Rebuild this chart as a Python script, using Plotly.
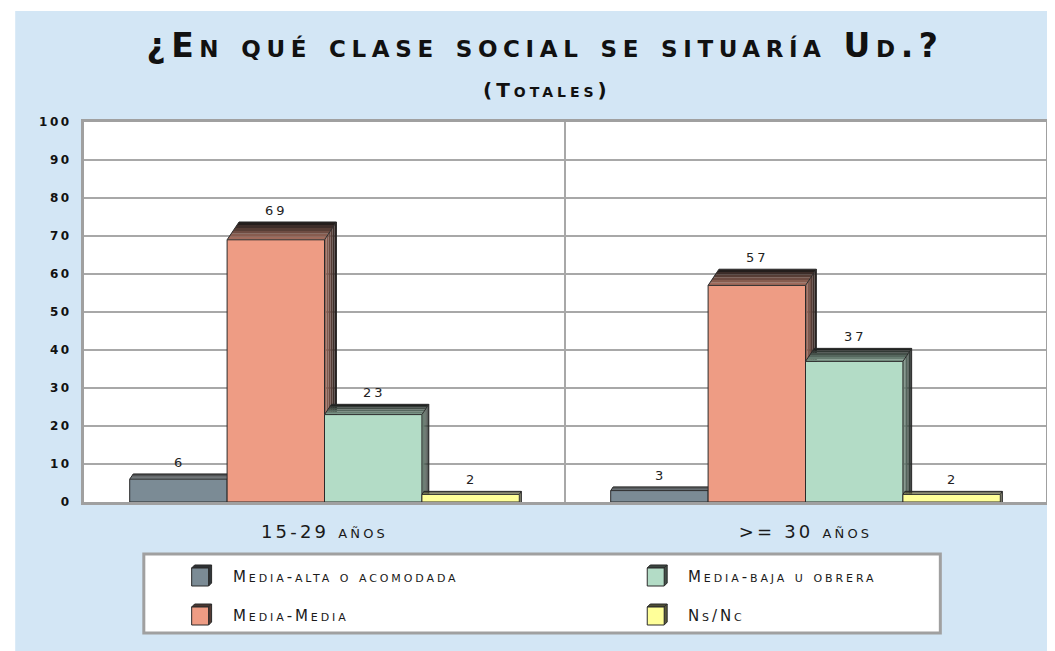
import math
import plotly.graph_objects as go

# ---------------- data ----------------
categories = ["15-29 años", ">= 30 años"]
series_names = ["Media-alta o acomodada", "Media-Media", "Media-baja u obrera", "Ns/Nc"]
media_alta = [6, 3]
media_media = [69, 57]
media_baja = [23, 37]
ns_nc = [2, 2]
y_ticks = [0, 10, 20, 30, 40, 50, 60, 70, 80, 90, 100]
title_text = "¿En qué clase social se situaría Ud.?"
subtitle_text = "(Totales)"

series_values = [media_alta, media_media, media_baja, ns_nc]
colors = ["#7b8b95", "#ee9c84", "#b3dcc6", "#ffff99"]

# ---------------- geometry / style ----------------
OFF = 8                    # page body margin of the browser
REF_W, REF_H = 1055, 651
W, H = REF_W - OFF, REF_H - OFF
PL, PR, PT, PB = 84, 1049, 122, 502      # plot area in reference pixels
ML, MR, MT, MB = PL - OFF, REF_W - PR, PT - OFF, REF_H - PB
PW = PR - PL
PH = PB - PT
YMAX = 100
BARGAP = 0.19
NS = len(series_values)
BW = (1 - BARGAP) / NS
CAT_PX = PW / len(categories)
FONT = "DejaVu Sans"
EDGE = "#2a2a2a"


def spaced(text, ls):
    return '<span style="letter-spacing:%spx">%s</span>' % (ls, text)


def hex2rgb(h):
    h = h.lstrip("#")
    return tuple(int(h[i:i + 2], 16) for i in (0, 2, 4))


def mix(c, t):
    r, g, b = hex2rgb(c)
    return "rgb(%d,%d,%d)" % (r * (1 - t) + 20 * t, g * (1 - t) + 20 * t, b * (1 - t) + 20 * t)


def px_x(px):   # reference pixel -> paper
    return (px - PL) / PW


def px_y(py):
    return (PB - py) / PH


fig = go.Figure()
for k, (name, vals) in enumerate(zip(series_names, series_values)):
    fig.add_trace(go.Bar(
        x=categories, y=vals, name=name,
        marker=dict(color=colors[k], line=dict(color=EDGE, width=1)),
        showlegend=False, hoverinfo="x+y+name",
    ))

shapes = []
annotations = []

# 3D faces (derived from the data values) and value labels
for k, vals in enumerate(series_values):
    for i, v in enumerate(vals):
        center = i + (k - (NS - 1) / 2) * BW
        xl, xr = center - BW / 2, center + BW / 2
        h_px = v * PH / YMAX
        dx = 0.74 * math.sqrt(h_px) / CAT_PX
        dy = 1.1 * math.sqrt(h_px) * YMAX / PH
        n = 6
        for j in range(n):  # side face
            t0, t1 = j / n, (j + 1) / n
            tm = (t0 + t1) / 2
            path = "M %f,0 L %f,%f L %f,%f L %f,0 Z" % (
                xr + t0 * dx, xr + t0 * dx, v + t0 * dy,
                xr + t1 * dx, v + t1 * dy, xr + t1 * dx)
            shapes.append(dict(type="path", path=path, xref="x", yref="y",
                               fillcolor=mix(colors[k], 0.35 + 0.6 * tm),
                               line=dict(width=0), layer="between"))
        for j in range(n):  # top face
            t0, t1 = j / n, (j + 1) / n
            tm = (t0 + t1) / 2
            path = "M %f,%f L %f,%f L %f,%f L %f,%f Z" % (
                xl + t0 * dx, v + t0 * dy, xr + t0 * dx, v + t0 * dy,
                xr + t1 * dx, v + t1 * dy, xl + t1 * dx, v + t1 * dy)
            shapes.append(dict(type="path", path=path, xref="x", yref="y",
                               fillcolor=mix(colors[k], 0.3 + 0.68 * tm),
                               line=dict(width=0), layer="between"))
        path = "M %f,%f L %f,%f L %f,%f L %f,0 M %f,%f L %f,%f" % (
            xl, v, xl + dx, v + dy, xr + dx, v + dy, xr + dx,
            xr, v, xr + dx, v + dy)
        shapes.append(dict(type="path", path=path, xref="x", yref="y",
                           line=dict(color=EDGE, width=1), layer="between"))
        annotations.append(dict(
            x=center, y=v + dy, xref="x", yref="y", text=spaced(str(v), 3),
            showarrow=False, yanchor="bottom", xanchor="center", yshift=2, xshift=1,
            font=dict(family=FONT, size=13, color="#222222")))

# white margins outside the blue panel
shapes.append(dict(type="rect", xref="paper", yref="paper",
                   x0=px_x(0), x1=px_x(REF_W + 10), y0=px_y(11), y1=px_y(-20),
                   fillcolor="white", line=dict(width=0), layer="below"))
shapes.append(dict(type="rect", xref="paper", yref="paper",
                   x0=px_x(-20), x1=px_x(15), y0=px_y(REF_H + 10), y1=px_y(0),
                   fillcolor="white", line=dict(width=0), layer="below"))

# legend box (drawn by hand to match the 3D swatches)
shapes.append(dict(type="rect", xref="paper", yref="paper",
                   x0=px_x(144), x1=px_x(943), y0=px_y(633), y1=px_y(554),
                   fillcolor="white", line=dict(color="#a0a0a0", width=3),
                   layer="above"))
legend_cells = [(0, 0), (0, 1), (1, 0), (1, 1)]  # (col, row) per series
col_x = [192, 649]
row_y = [576, 615]
for k, name in enumerate(series_names):
    c, r = legend_cells[k]
    x0 = col_x[c]
    yc = row_y[r]
    fx0, fx1 = x0, x0 + 17
    fy0, fy1 = yc - 8, yc + 10
    d = 3
    shapes.append(dict(type="path", xref="paper", yref="paper", layer="above",
                       path="M %f,%f L %f,%f L %f,%f L %f,%f Z" % (
                           px_x(fx0), px_y(fy0), px_x(fx0 + d), px_y(fy0 - d),
                           px_x(fx1 + d), px_y(fy0 - d), px_x(fx1), px_y(fy0)),
                       fillcolor=mix(colors[k], 0.75), line=dict(color=EDGE, width=1)))
    shapes.append(dict(type="path", xref="paper", yref="paper", layer="above",
                       path="M %f,%f L %f,%f L %f,%f L %f,%f Z" % (
                           px_x(fx1), px_y(fy0), px_x(fx1 + d), px_y(fy0 - d),
                           px_x(fx1 + d), px_y(fy1 - d), px_x(fx1), px_y(fy1)),
                       fillcolor=mix(colors[k], 0.7), line=dict(color=EDGE, width=1)))
    shapes.append(dict(type="rect", xref="paper", yref="paper", layer="above",
                       x0=px_x(fx0), x1=px_x(fx1), y0=px_y(fy1), y1=px_y(fy0),
                       fillcolor=colors[k], line=dict(color=EDGE, width=1)))
    annotations.append(dict(
        x=px_x(x0 + 39), y=px_y(yc + 1), xref="paper", yref="paper",
        text=spaced(name, 2.9), showarrow=False, xanchor="left", yanchor="middle",
        font=dict(family=FONT, size=15, color="#1a1a1a", variant="small-caps")))

# subtitle
annotations.append(dict(
    x=px_x(548), y=px_y(90), xref="paper", yref="paper",
    text=spaced(subtitle_text, 4),
    showarrow=False, xanchor="center", yanchor="middle",
    font=dict(family=FONT, size=20, color="#111111", weight="bold",
              variant="small-caps")))

fig.update_layout(
    width=W, height=H, autosize=False,
    margin=dict(l=ML, r=MR, t=MT, b=MB, pad=0),
    paper_bgcolor="#d3e6f5", plot_bgcolor="white",
    barmode="group", bargap=BARGAP, bargroupgap=0,
    showlegend=False,
    title=dict(text=spaced(title_text, 5.6), x=(545 - OFF) / W, y=1 - (45 - OFF) / H,
               xref="container", yref="container", xanchor="center", yanchor="middle",
               font=dict(family=FONT, size=33, color="#111111", weight="bold",
                         variant="small-caps")),
    xaxis=dict(type="category", range=[-0.5, len(categories) - 0.5],
               tickvals=categories, ticktext=[spaced(c, 3.2) for c in categories],
               showline=True, mirror=True, linecolor="#a0a0a0", linewidth=3,
               showgrid=True, gridcolor="#a8a8a8", gridwidth=2,
               tickson="boundaries", ticks="", ticklabelstandoff=11,
               tickfont=dict(family=FONT, size=18, color="#1a1a1a",
                             variant="small-caps")),
    yaxis=dict(range=[0, YMAX], tickvals=y_ticks,
               ticktext=[spaced(str(t), 2.5) for t in y_ticks],
               showline=True, mirror=True, linecolor="#a0a0a0", linewidth=3,
               showgrid=True, gridcolor="#a8a8a8", gridwidth=2, zeroline=False,
               ticks="", ticklabelstandoff=7,
               tickfont=dict(family=FONT, size=12, color="#111111", weight="bold")),
    shapes=shapes,
    annotations=annotations,
)

fig.write_html("out.html")
